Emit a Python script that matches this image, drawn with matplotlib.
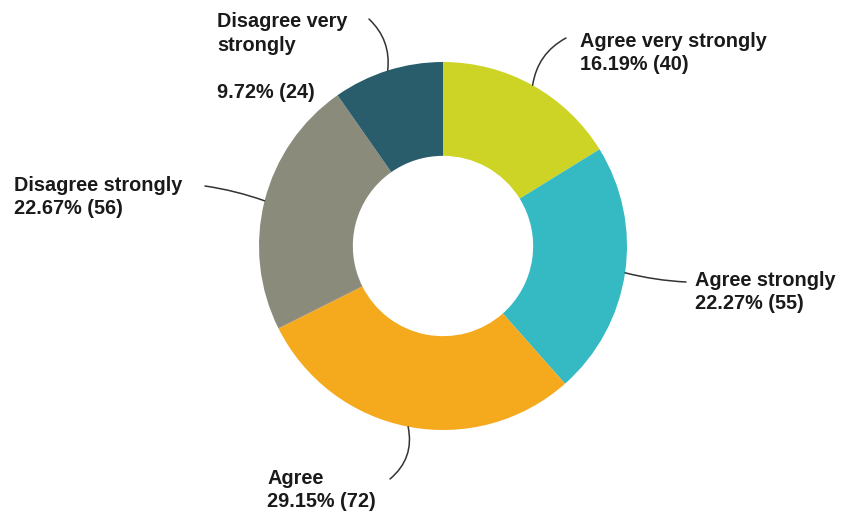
import numpy as np
import matplotlib
matplotlib.use("Agg")
import matplotlib.pyplot as plt

# Survey responses (counts), drawn clockwise from 12 o'clock
categories = ["Agree very strongly", "Agree strongly", "Agree",
              "Disagree strongly", "Disagree very strongly"]
counts = [40, 55, 72, 56, 24]
colors = ["#CDD425", "#35B9C2", "#F5A91D", "#8B8B7B", "#2A5D6C"]

# Label text wrapping for each slice
label_names = ["Agree very strongly", "Agree strongly", "Agree",
               "Disagree strongly", "Disagree very\nstrongly\n"]

total = sum(counts)
percent = [100.0 * c / total for c in counts]

plt.rcParams["font.family"] = ["Liberation Sans", "DejaVu Sans"]

W, H = 849, 520
fig = plt.figure(figsize=(W / 100, H / 100), dpi=100)
ax = fig.add_axes([0, 0, 1, 1])

# Pixel-to-data helpers (donut centre at 443,246, outer radius 184 px)
cx, cy, R = 443.0, 246.0, 184.0
def px(x, y):
    return ((x - cx) / R, (cy - y) / R)

wedges, _ = ax.pie(counts, colors=colors, startangle=90, counterclock=False,
                   radius=1.0, wedgeprops=dict(width=0.51, linewidth=0))

ax.set_xlim(-cx / R, (W - cx) / R)
ax.set_ylim((cy - H) / R, cy / R)
ax.set_aspect("equal")
ax.axis("off")

# Label placement (top-left corner of text, px) and leader-line start
label_pos = [(580, 32), (695, 271), (267, 469), (14, 176), (217, 12)]
leader_start = [(566, 38), (686, 282), (390, 479), (205, 186), (369, 19)]
leader_rad = [0.25, -0.05, 0.3, -0.05, -0.25]
line_gap = [1.25, 1.25, 1.25, 1.25, 1.3]

for w, name, pct, n, lp, ls, rad, gap in zip(wedges, label_names, percent,
                                              counts, label_pos, leader_start,
                                              leader_rad, line_gap):
    mid = np.deg2rad(0.5 * (w.theta1 + w.theta2))
    tip = (np.cos(mid), np.sin(mid))
    ax.text(*px(*lp), f"{name}\n{pct:.2f}% ({n})", ha="left", va="top",
            fontsize=14.3, fontweight="bold", color="#1a1a1a", linespacing=gap)
    ax.annotate("", xy=tip, xytext=px(*ls),
                arrowprops=dict(arrowstyle="-", color="#333333", lw=1.1,
                                connectionstyle=f"arc3,rad={rad}",
                                shrinkA=0, shrinkB=0))

fig.savefig("out.png", dpi=100, facecolor="white")
